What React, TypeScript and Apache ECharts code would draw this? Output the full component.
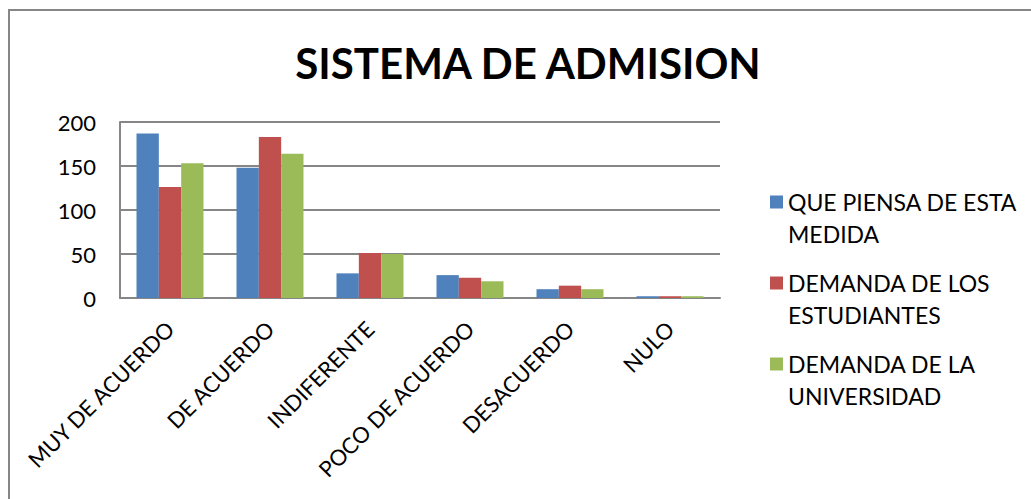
import React, { useEffect, useRef } from "react";
import * as echarts from "echarts";

const categories = ["MUY DE ACUERDO", "DE ACUERDO", "INDIFERENTE", "POCO DE ACUERDO", "DESACUERDO", "NULO"];
const quePiensa = [187, 148, 28, 26, 10, 2];
const demandaEstudiantes = [126, 183, 51, 23, 14, 2];
const demandaUniversidad = [153, 164, 50, 19, 10, 2];
const seriesNames = ["QUE PIENSA DE ESTA MEDIDA", "DEMANDA DE LOS ESTUDIANTES", "DEMANDA DE LA UNIVERSIDAD"];
const legendLabels: Record<string, string> = {
  "QUE PIENSA DE ESTA MEDIDA": " \nQUE PIENSA DE ESTA\nMEDIDA",
  "DEMANDA DE LOS ESTUDIANTES": " \nDEMANDA DE LOS\nESTUDIANTES",
  "DEMANDA DE LA UNIVERSIDAD": " \nDEMANDA DE LA\nUNIVERSIDAD",
};
const colors = ["#4F81BD", "#C0504D", "#9BBB59"];
const yTicks = { min: 0, max: 200, interval: 50 };

export default function App() {
  const ref = useRef<HTMLDivElement>(null);
  useEffect(() => {
    document.body.style.margin = "0";
    const chart = echarts.init(ref.current!, null, { renderer: "svg" });
    const font = "Lato, 'Open Sans', sans-serif";
    const dataSets = [quePiensa, demandaEstudiantes, demandaUniversidad];
    chart.setOption({
      animation: false,
      backgroundColor: "#ffffff",
      title: {
        text: "SISTEMA DE ADMISION",
        left: 523,
        textAlign: "center",
        top: 37,
        textStyle: { fontFamily: font, fontWeight: "bold", fontSize: 42, color: "#000" },
      },
      graphic: [
        {
          type: "rect",
          shape: { x: 9, y: 10, width: 1040, height: 520 },
          style: { fill: "none", stroke: "#868686", lineWidth: 2 },
          silent: true,
        },
      ],
      legend: {
        orient: "vertical",
        left: 765,
        top: 149,
        itemWidth: 13,
        itemHeight: 13,
        itemGap: -15,
        icon: "rect",
        data: seriesNames,
        formatter: (name: string) => legendLabels[name] || name,
        textStyle: {
          fontFamily: font,
          fontSize: 23,
          color: "#000",
          lineHeight: 32,
        },
      },
      grid: { left: 120, right: 311, top: 122, bottom: 201, containLabel: false },
      xAxis: {
        type: "category",
        data: categories,
        axisLine: { lineStyle: { color: "#868686", width: 2 } },
        axisTick: { show: false },
        axisLabel: { rotate: 45, interval: 0, margin: 27, fontFamily: font, fontSize: 22, color: "#000" },
      },
      yAxis: {
        type: "value",
        min: yTicks.min,
        max: yTicks.max,
        interval: yTicks.interval,
        axisLine: { show: true, lineStyle: { color: "#868686", width: 2 } },
        axisTick: { show: false },
        splitLine: { lineStyle: { color: "#868686", width: 2 } },
        axisLabel: { margin: 24, fontFamily: font, fontSize: 22, color: "#000" },
      },
      series: seriesNames.map((n, i) => ({
        name: n,
        type: "bar",
        data: dataSets[i],
        barGap: "0%",
        barCategoryGap: "33%",
        itemStyle: { color: colors[i] },
      })),
    });
    return () => chart.dispose();
  }, []);
  return <div ref={ref} style={{ width: 1031, height: 499 }} />;
}
